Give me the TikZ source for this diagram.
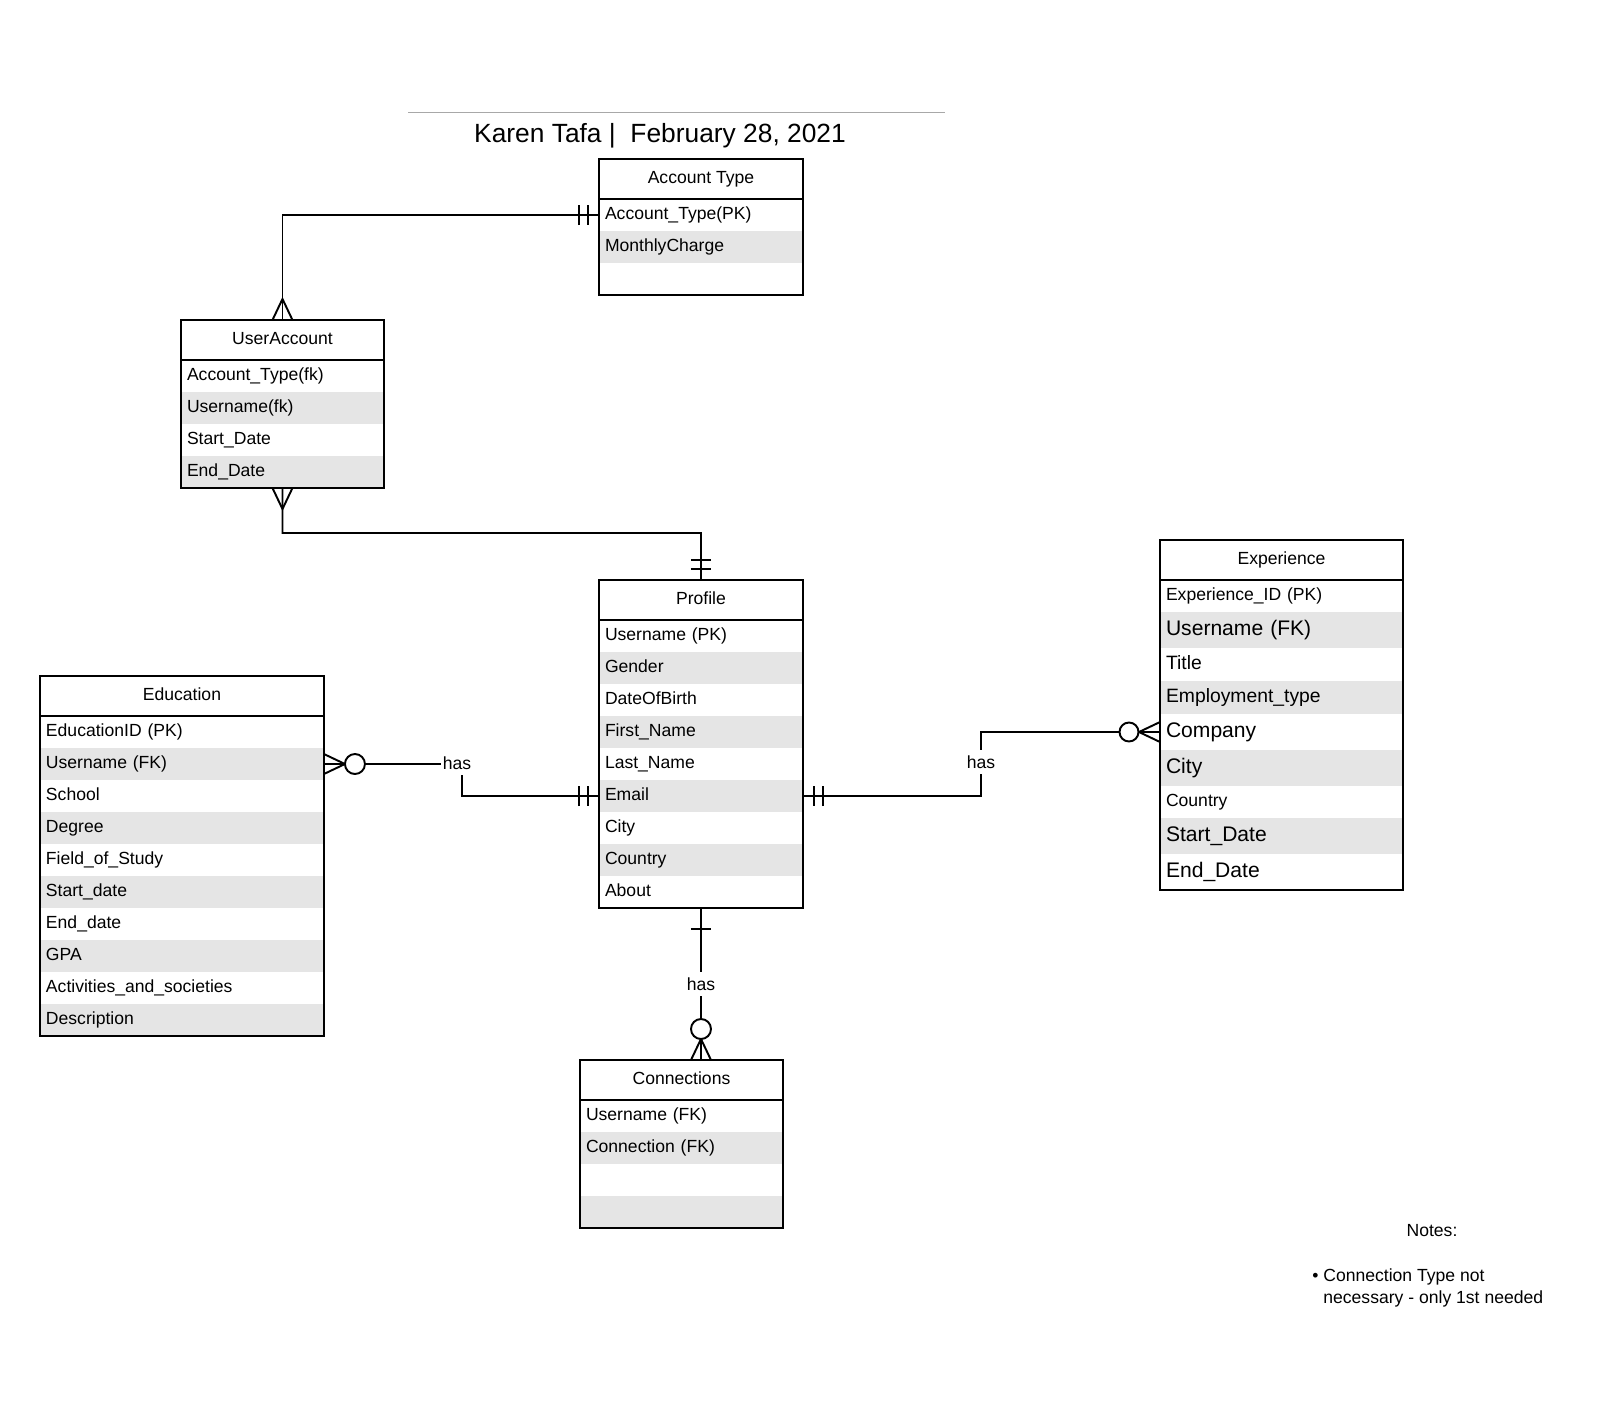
\documentclass[tikz,border=0pt]{standalone}
\usepackage{fontspec}
\setmainfont{Liberation Sans}
\usetikzlibrary{positioning,fit,calc}
\definecolor{rowgray}{HTML}{E5E5E5}
\definecolor{rulegray}{HTML}{A8A8A8}

\begin{document}
\begin{tikzpicture}[x=0.02cm, y=-0.02cm,
  hdr/.style={anchor=north west, draw, line width=1.2pt, outer sep=0pt, minimum width=#1, minimum height=0.8cm, inner sep=0pt, text height=7.5pt, text depth=2.2pt, font=\fontsize{10}{12}\selectfont},
  rw/.style={anchor=north west, text width=#1, inner xsep=0.12cm, inner ysep=0pt, outer sep=0pt, minimum height=0.64cm, align=left, text height=7.5pt, text depth=2.2pt, font=\fontsize{10}{12}\selectfont},
  rg/.style={rw=#1, fill=rowgray},
  midtxt/.style={font=\fontsize{11}{13}\selectfont, text height=8.2pt, text depth=2.4pt},
  bigtxt/.style={font=\fontsize{12}{14}\selectfont, text height=9pt, text depth=2.6pt},
  tblframe/.style={draw, line width=1.2pt, inner sep=0pt, outer sep=0pt},
  conn/.style={line width=1.1pt},
  lbl/.style={fill=white, inner xsep=1pt, inner ysep=3pt, font=\fontsize{10}{12}\selectfont}
]
  \useasboundingbox (0,0) rectangle (1601,1400);

  % title
  \draw[rulegray, line width=1.1pt] (408,112.5) -- (945,112.5);
  \node[font=\fontsize{15}{18}\selectfont] (title) at (660,136) {Karen Tafa |\ \ February 28, 2021};

  % Account Type
  \node[rw=3.84cm] (at1) at (599,199) {Account\_Type(PK)};
  \node[rg=3.84cm] (at2) at (599,231) {MonthlyCharge};
  \node[rw=3.84cm] (at3) at (599,263) {\mbox{}};
  \node[hdr=4.08cm] (at0) at (599,159) {Account Type};
  \node[tblframe, fit=(at0)(at3)] (accounttype) {};

  % UserAccount
  \node[rw=3.82cm] (ua1) at (181,360) {Account\_Type(fk)};
  \node[rg=3.82cm] (ua2) at (181,392) {Username(fk)};
  \node[rw=3.82cm] (ua3) at (181,424) {Start\_Date};
  \node[rg=3.82cm] (ua4) at (181,456) {End\_Date};
  \node[hdr=4.06cm] (ua0) at (181,320) {UserAccount};
  \node[tblframe, fit=(ua0)(ua4)] (useraccount) {};

  % Profile
  \node[rw=3.84cm] (pr1) at (599,620) {Username (PK)};
  \node[rg=3.84cm] (pr2) at (599,652) {Gender};
  \node[rw=3.84cm] (pr3) at (599,684) {DateOfBirth};
  \node[rg=3.84cm] (pr4) at (599,716) {First\_Name};
  \node[rw=3.84cm] (pr5) at (599,748) {Last\_Name};
  \node[rg=3.84cm] (pr6) at (599,780) {Email};
  \node[rw=3.84cm] (pr7) at (599,812) {City};
  \node[rg=3.84cm] (pr8) at (599,844) {Country};
  \node[rw=3.84cm] (pr9) at (599,876) {About};
  \node[hdr=4.08cm] (pr0) at (599,580) {Profile};
  \node[tblframe, fit=(pr0)(pr9)] (profile) {};

  % Education
  \node[rw=5.44cm] (ed1) at (40,716) {EducationID (PK)};
  \node[rg=5.44cm] (ed2) at (40,748) {Username (FK)};
  \node[rw=5.44cm] (ed3) at (40,780) {School};
  \node[rg=5.44cm] (ed4) at (40,812) {Degree};
  \node[rw=5.44cm] (ed5) at (40,844) {Field\_of\_Study};
  \node[rg=5.44cm] (ed6) at (40,876) {Start\_date};
  \node[rw=5.44cm] (ed7) at (40,908) {End\_date};
  \node[rg=5.44cm] (ed8) at (40,940) {GPA};
  \node[rw=5.44cm] (ed9) at (40,972) {Activities\_and\_societies};
  \node[rg=5.44cm] (ed10) at (40,1004) {Description};
  \node[hdr=5.68cm] (ed0) at (40,676) {Education};
  \node[tblframe, fit=(ed0)(ed10)] (education) {};

  % Experience
  \node[rw=4.62cm] (ex1) at (1160,580) {Experience\_ID (PK)};
  \node[rg=4.62cm, bigtxt, minimum height=0.72cm] (ex2) at (1160,612) {Username (FK)};
  \node[rw=4.62cm, midtxt, minimum height=0.66cm] (ex3) at (1160,648) {Title};
  \node[rg=4.62cm, midtxt, minimum height=0.66cm] (ex4) at (1160,681) {Employment\_type};
  \node[rw=4.62cm, bigtxt, minimum height=0.72cm] (ex5) at (1160,714) {Company};
  \node[rg=4.62cm, bigtxt, minimum height=0.72cm] (ex6) at (1160,750) {City};
  \node[rw=4.62cm] (ex7) at (1160,786) {Country};
  \node[rg=4.62cm, bigtxt, minimum height=0.72cm] (ex8) at (1160,818) {Start\_Date};
  \node[rw=4.62cm, bigtxt, minimum height=0.72cm] (ex9) at (1160,854) {End\_Date};
  \node[hdr=4.86cm] (ex0) at (1160,540) {Experience};
  \node[tblframe, fit=(ex0)(ex9)] (experience) {};

  % Connections
  \node[rw=3.82cm] (cn1) at (580,1100) {Username (FK)};
  \node[rg=3.82cm] (cn2) at (580,1132) {Connection (FK)};
  \node[rw=3.82cm] (cn3) at (580,1164) {\mbox{}};
  \node[rg=3.82cm] (cn4) at (580,1196) {\mbox{}};
  \node[hdr=4.06cm] (cn0) at (580,1060) {Connections};
  \node[tblframe, fit=(cn0)(cn4)] (connections) {};

  % relationships
  \draw[conn] (at1.west) -| (ua0.north);
  \draw[conn] (at1.west) ++(-11,-10) -- ++(0,20) ++(-9,0) -- ++(0,-20);
  \draw[conn] (ua0.north) ++(-10,0) -- ++(10,-21) -- ++(10,21);

  \coordinate (j1) at (282.5,533);
  \draw[conn] (ua4.south) -- (j1) -| (pr0.north);
  \draw[conn] (ua4.south) ++(-10,0) -- ++(10,21) -- ++(10,-21);
  \draw[conn] (pr0.north) ++(-10,-11) -- ++(20,0) ++(0,-9) -- ++(-20,0);

  \coordinate (c1) at (462,764);
  \draw[conn] (ed2.east) -- (c1) |- (pr6.west);
  \node[lbl] (has1) at (457,763) {has};
  \draw[conn] (ed2.east) ++(0,-10) -- ++(21,10) -- ++(-21,10);
  \draw[conn, fill=white] (ed2.east) ++(31,0) circle[radius=0.2cm];
  \draw[conn] (pr6.west) ++(-11,-10) -- ++(0,20) ++(-9,0) -- ++(0,-20);

  \coordinate (c2) at (981,796);
  \draw[conn] (pr6.east) -- (c2) |- (ex5.west);
  \node[lbl] (has2) at (981,762) {has};
  \draw[conn] (pr6.east) ++(11,-10) -- ++(0,20) ++(9,0) -- ++(0,-20);
  \draw[conn] (ex5.west) ++(0,-10) -- ++(-21,10) -- ++(21,10);
  \draw[conn, fill=white] (ex5.west) ++(-31,0) circle[radius=0.19cm];

  \draw[conn] (pr9.south) -- node[lbl] (has3) {has} (pr9.south |- cn0.north);
  \draw[conn] (pr9.south) ++(-10,21) -- ++(20,0);
  \draw[conn] (pr9.south |- cn0.north) ++(-10,0) -- ++(10,-21) -- ++(10,21);
  \draw[conn, fill=white] (pr9.south |- cn0.north) ++(0,-31) circle[radius=0.2cm];

  % notes
  \node[font=\fontsize{10}{12}\selectfont] (notes) at (1432,1231) {Notes:};
  \node[anchor=base west, align=left, inner sep=0pt, font=\fontsize{10}{12.5}\selectfont] (notetext) at (1312,1303) {\textbullet\ Connection Type not\\\hphantom{\textbullet\ }necessary - only 1st needed};
\end{tikzpicture}
\end{document}
